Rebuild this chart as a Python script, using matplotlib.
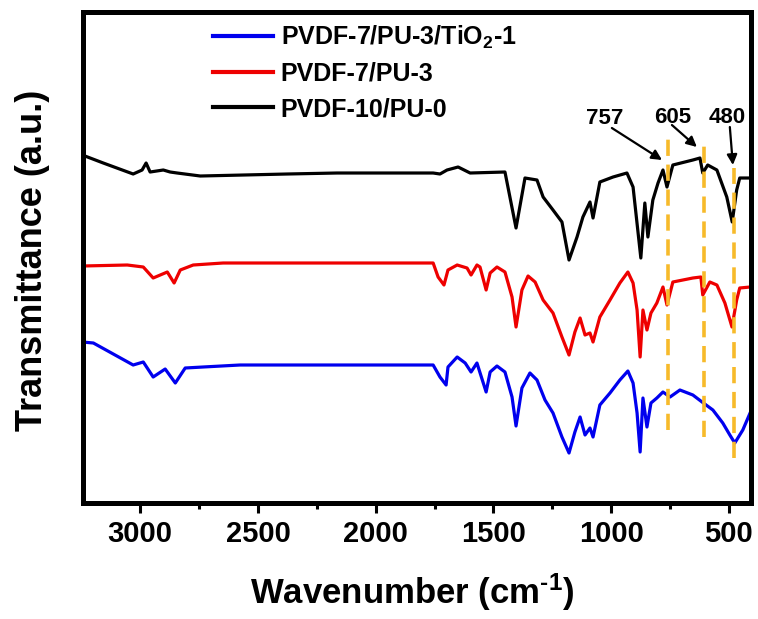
import matplotlib
matplotlib.use("Agg")
import matplotlib.pyplot as plt
from matplotlib.ticker import MultipleLocator

plt.rcParams['font.family'] = ['Liberation Sans', 'DejaVu Sans']
plt.rcParams['font.weight'] = 'bold'
plt.rcParams['mathtext.fontset'] = 'custom'
plt.rcParams['mathtext.rm'] = 'Liberation Sans:bold'
plt.rcParams['mathtext.bf'] = 'Liberation Sans:bold'
plt.rcParams['mathtext.it'] = 'Liberation Sans:bold'
plt.rcParams['mathtext.default'] = 'bf'

# ---- data (wavenumber, transmittance in arbitrary units) ----
wn_black = [3246, 3157, 3030, 2992, 2975, 2958, 2902, 2873, 2843, 2745, 2376, 2164,
            1756, 1727, 1697, 1650, 1599, 1451, 1404, 1366, 1315, 1289, 1247, 1209,
            1179, 1145, 1120, 1090, 1077, 1048, 992, 933, 907, 874, 857, 844, 823,
            801, 780, 763, 738, 653, 623, 611, 590, 551, 509, 486, 467, 454, 410]
t_black = [348, 340, 329, 333, 340, 331, 333, 331, 330, 327, 329, 330,
           330, 329, 333, 336, 330, 331, 275, 325, 323, 306, 293, 281,
           243, 266, 286, 301, 285, 321, 326, 330, 316, 245, 300, 266, 303,
           320, 333, 316, 338, 343, 345, 330, 338, 333, 306, 281, 313, 325, 325]

wn_red = [3246, 3055, 2987, 2945, 2915, 2885, 2856, 2830, 2775, 2648, 1756, 1735,
          1710, 1693, 1654, 1612, 1595, 1570, 1557, 1531, 1514, 1485, 1451, 1421,
          1404, 1379, 1353, 1323, 1289, 1247, 1209, 1179, 1154, 1132, 1111, 1090,
          1077, 1048, 1005, 963, 929, 907, 890, 877, 865, 848, 831, 806, 780, 763,
          738, 653, 619, 611, 581, 551, 517, 487, 467, 454, 410]
t_red = [237, 238, 236, 225, 228, 231, 220, 233, 238, 240, 240, 226,
         218, 233, 238, 235, 228, 238, 236, 213, 230, 236, 231, 206,
         176, 213, 227, 221, 203, 190, 166, 148, 171, 185, 168, 170,
         161, 186, 203, 220, 231, 220, 193, 146, 193, 173, 190, 200, 216, 198,
         221, 225, 226, 208, 221, 218, 200, 176, 203, 215, 216]

wn_blue = [3246, 3199, 3030, 2987, 2945, 2894, 2851, 2809, 2733, 2576, 1756, 1727,
           1701, 1693, 1654, 1620, 1595, 1570, 1531, 1514, 1485, 1451, 1421, 1404,
           1379, 1345, 1315, 1281, 1247, 1209, 1179, 1154, 1132, 1111, 1090, 1077,
           1048, 1005, 963, 929, 907, 890, 877, 865, 848, 831, 806, 780, 750, 708,
           653, 614, 568, 526, 496, 475, 441, 410]
t_blue = [161, 160, 138, 141, 126, 134, 120, 135, 136, 138, 138, 126,
          118, 136, 146, 140, 131, 140, 111, 131, 137, 131, 106, 77,
          115, 130, 123, 103, 90, 66, 50, 71, 86, 68, 75, 66,
          98, 110, 123, 132, 120, 90, 51, 105, 76, 100, 105, 111, 106, 113,
          108, 101, 93, 80, 68, 60, 73, 90]

labels = ['PVDF-7/PU-3/TiO$_2$-1', 'PVDF-7/PU-3', 'PVDF-10/PU-0']
colors = ['#0000EE', '#EE0000', '#000000']

mark_wn = [757, 605, 480]
mark_lo = [73, 66, 45]
mark_hi = [370, 358, 335]
mark_text = ['757', '605', '480']
text_pos = [(1026, 385), (738, 386), (508, 386)]
arrow_tail = [(997, 375), (742, 378), (496, 376)]
arrow_head = [(784, 343), (636, 356), (483, 338)]

# ---- figure ----
fig = plt.figure(figsize=(7.58, 6.19), dpi=100)
ax = fig.add_axes([0.1095, 0.1874, 0.881, 0.7932])

series = [(wn_blue, t_blue), (wn_red, t_red), (wn_black, t_black)]
for (x, y), lab, c in zip(series, labels, colors):
    ax.plot(x, y, color=c, lw=2.3, label=lab, solid_joinstyle='round')

for w, lo, hi in zip(mark_wn, mark_lo, mark_hi):
    ax.plot([w, w], [lo, hi], color='#F7BA2A', lw=2.6, dashes=(4.5, 2.4), zorder=4)

for t, p in zip(mark_text, text_pos):
    ax.text(p[0], p[1], t, fontsize=16, fontweight='bold', ha='center', va='center')
for tl, hd in zip(arrow_tail, arrow_head):
    ax.annotate('', xy=hd, xytext=tl,
                arrowprops=dict(arrowstyle='-|>', lw=1.6, color='k',
                                mutation_scale=15, shrinkA=0, shrinkB=0))

ax.set_xlim(3243, 407)
ax.set_ylim(0, 491)
ax.xaxis.set_major_locator(MultipleLocator(500))
ax.xaxis.set_minor_locator(MultipleLocator(250))
ax.set_yticks([])
ax.tick_params(axis='x', which='major', direction='out', length=7, width=2.2,
               labelsize=21, pad=5)
ax.tick_params(axis='x', which='minor', direction='out', length=4, width=2.2)
for lab in ax.get_xticklabels():
    lab.set_fontweight('bold')
for s in ax.spines.values():
    s.set_linewidth(3.6)

leg = ax.legend(loc='upper left', bbox_to_anchor=(0.195, 0.977), frameon=False,
                fontsize=18, handlelength=2.4, handletextpad=0.3,
                labelspacing=0.45, borderpad=0, borderaxespad=0)
for l in leg.get_lines():
    l.set_linewidth(3)

fig.text(0.5435, 0.044, 'Wavenumber (cm$^{\u2010 1}$)', fontsize=25, fontweight='bold',
         ha='center', va='center')
fig.text(0.0435, 0.58, 'Transmittance (a.u.)', fontsize=26, fontweight='bold',
         ha='center', va='center', rotation=90)

fig.savefig('out.png', dpi=100)
